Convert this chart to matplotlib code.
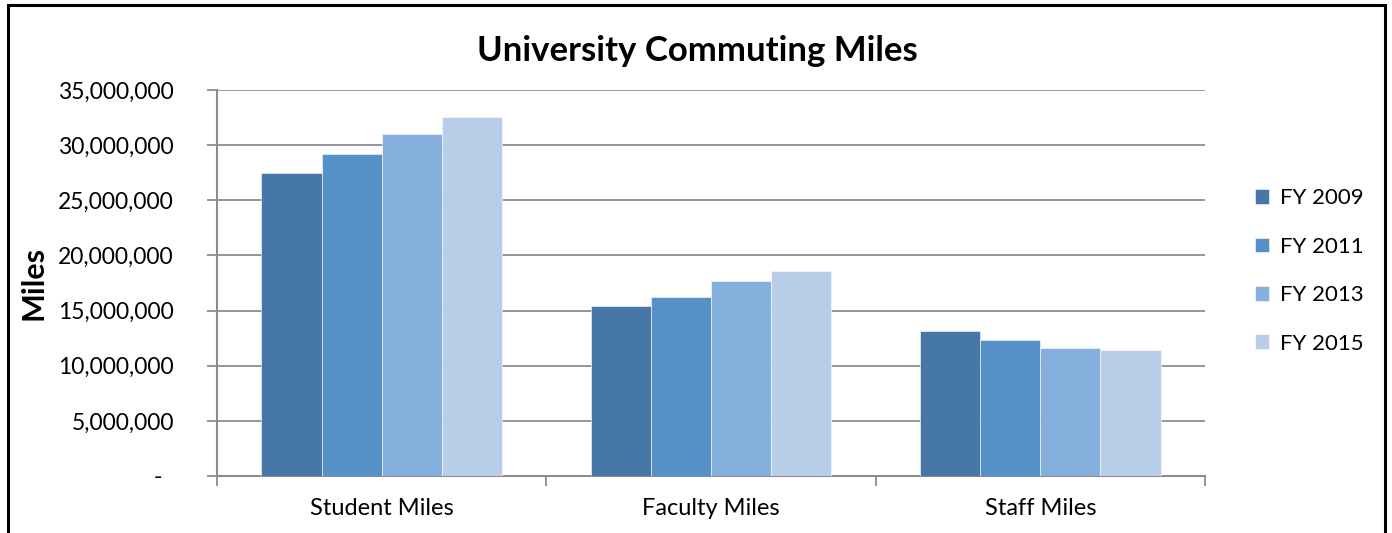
"""Grouped bar chart of university commuting miles by fiscal year."""

import matplotlib
matplotlib.use("Agg")
import matplotlib.pyplot as plt
import numpy as np
from matplotlib.patches import Rectangle
from matplotlib.ticker import FuncFormatter, MultipleLocator

plt.rcParams["font.family"] = ["Lato", "DejaVu Sans"]

categories = ["Student Miles", "Faculty Miles", "Staff Miles"]
years = ["FY 2009", "FY 2011", "FY 2013", "FY 2015"]
fy2009 = [27_450_000, 15_400_000, 13_150_000]
fy2011 = [29_200_000, 16_250_000, 12_330_000]
fy2013 = [30_980_000, 17_650_000, 11_630_000]
fy2015 = [32_520_000, 18_580_000, 11_450_000]
colors = ["#4677A7", "#5590C7", "#85AFDC", "#B8CDE8"]

series = [fy2009, fy2011, fy2013, fy2015]

fig = plt.figure(figsize=(13.92, 5.33), dpi=100)
ax = fig.add_axes([217 / 1392, 1 - 476 / 533, (1205 - 217) / 1392, (476 - 90) / 533])

# outer chart frame (bottom edge runs off the canvas)
fig.patches.append(Rectangle((8 / 1392, -0.05), (1385 - 8) / 1392, 1.05 - 5 / 533,
                             transform=fig.transFigure, fill=False,
                             edgecolor="black", linewidth=2.2))

x = np.arange(len(categories))
bar_w = 0.73 / 4
for i, (vals, name, col) in enumerate(zip(series, years, colors)):
    offs = (i - 1.5) * bar_w
    ax.bar(x + offs, vals, width=bar_w, color=col, edgecolor="#FFFFFF",
           linewidth=0.4, label=name, zorder=3)

ax.set_xlim(-0.5, len(categories) - 0.5)
ax.set_ylim(0, 35_000_000)
ax.yaxis.set_major_locator(MultipleLocator(5_000_000))
ax.yaxis.set_major_formatter(FuncFormatter(
    lambda v, _: "-  " if v == 0 else f"{int(v):,}"))
ax.grid(axis="y", color="#8C8C8C", linewidth=1.3, zorder=0)

ax.set_xticks(x)
ax.set_xticklabels(categories, fontsize=17)
ax.set_xticks(np.arange(len(categories) + 1) - 0.5, minor=True)
ax.tick_params(axis="x", which="major", length=0, pad=16)
ax.tick_params(axis="x", which="minor", length=7, width=1.3, color="#8C8C8C")
ax.tick_params(axis="y", length=7, width=1.3, color="#8C8C8C", labelsize=16.5, pad=24)

for side in ("top", "right"):
    ax.spines[side].set_visible(False)
for side in ("left", "bottom"):
    ax.spines[side].set_color("#8C8C8C")
    ax.spines[side].set_linewidth(1.5)

ax.set_ylabel("Miles", fontsize=22, fontweight="bold")
ax.yaxis.set_label_coords((33 - 217) / (1205 - 217), (476 - 283) / 386)
ax.yaxis.label.set_va("center")
fig.text(697 / 1392, 1 - 51 / 533, "University Commuting Miles", ha="center",
         va="center", fontsize=25, fontweight="bold")

leg = ax.legend(loc="center left", bbox_to_anchor=(1.03, 0.531), frameon=False,
                fontsize=16, handlelength=0.65, handleheight=0.65,
                handletextpad=0.5, labelspacing=1.28)

fig.savefig("out.png", dpi=100)
